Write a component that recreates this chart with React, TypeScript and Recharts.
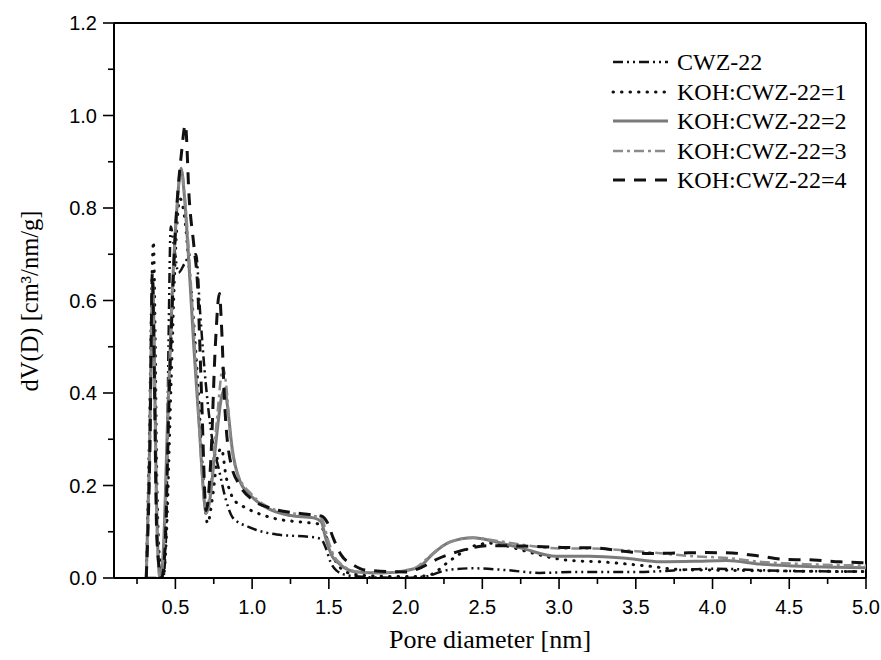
import React from "react";
import { LineChart, Line, XAxis, YAxis, ReferenceLine } from "recharts";

// ---- Data (pore diameter nm, dV(D) cm3/nm/g) ----
const cwzX = [0.31, 0.42, 0.44, 0.455, 0.47, 0.49, 0.52, 0.56, 0.6, 0.635, 0.66, 0.69, 0.72, 0.75, 0.78, 0.83, 0.875, 0.98, 1.16, 1.4, 1.45, 1.48, 1.51, 1.55, 1.62, 1.75, 2.0, 2.14, 2.27, 2.44, 2.66, 2.87, 3.09, 3.5, 4.0, 4.5, 5.0];
const cwzY = [0, 0, 0.1, 0.5, 0.76, 0.72, 0.66, 0.68, 0.7, 0.7, 0.58, 0.45, 0.35, 0.28, 0.24, 0.168, 0.13, 0.11, 0.094, 0.088, 0.084, 0.065, 0.035, 0.016, 0.006, 0.002, 0.0, 0.004, 0.017, 0.021, 0.017, 0.011, 0.013, 0.013, 0.02, 0.015, 0.014];

const koh1X = [0.31, 0.33, 0.35, 0.357, 0.365, 0.38, 0.4, 0.42, 0.44, 0.47, 0.5, 0.53, 0.56, 0.59, 0.62, 0.65, 0.68, 0.71, 0.74, 0.78, 0.8, 0.83, 0.88, 0.94, 1.0, 1.13, 1.35, 1.43, 1.47, 1.51, 1.56, 1.64, 1.8, 2.0, 2.14, 2.3, 2.45, 2.55, 2.65, 2.76, 2.98, 3.07, 3.27, 3.45, 3.6, 3.8, 4.0, 4.5, 5.0];
const koh1Y = [0, 0.3, 0.68, 0.727, 0.6, 0.2, 0.03, 0, 0.08, 0.4, 0.7, 0.82, 0.78, 0.67, 0.55, 0.4, 0.22, 0.118, 0.17, 0.27, 0.28, 0.22, 0.17, 0.155, 0.145, 0.13, 0.12, 0.117, 0.1, 0.06, 0.028, 0.01, 0.004, 0.003, 0.005, 0.04, 0.07, 0.075, 0.07, 0.06, 0.042, 0.038, 0.035, 0.03, 0.025, 0.018, 0.017, 0.015, 0.014];

const koh2X = [0.31, 0.33, 0.345, 0.352, 0.36, 0.375, 0.39, 0.4, 0.42, 0.45, 0.48, 0.51, 0.537, 0.56, 0.59, 0.62, 0.657, 0.68, 0.7, 0.72, 0.76, 0.8, 0.82, 0.84, 0.87, 0.92, 1.0, 1.13, 1.25, 1.4, 1.45, 1.48, 1.52, 1.57, 1.68, 1.85, 2.0, 2.09, 2.18, 2.29, 2.44, 2.59, 2.76, 2.98, 3.2, 3.45, 3.66, 3.88, 4.09, 4.31, 4.53, 4.8, 5.0];
const koh2Y = [0, 0.25, 0.55, 0.64, 0.55, 0.2, 0.03, 0, 0.05, 0.35, 0.62, 0.8, 0.886, 0.82, 0.67, 0.5, 0.32, 0.2, 0.14, 0.16, 0.28, 0.39, 0.41, 0.37, 0.28, 0.21, 0.175, 0.146, 0.135, 0.13, 0.122, 0.085, 0.048, 0.03, 0.013, 0.011, 0.016, 0.024, 0.053, 0.078, 0.087, 0.078, 0.064, 0.047, 0.047, 0.042, 0.035, 0.036, 0.038, 0.03, 0.026, 0.023, 0.022];

const koh3X = [0.31, 0.335, 0.35, 0.36, 0.38, 0.4, 0.42, 0.45, 0.48, 0.51, 0.54, 0.565, 0.6, 0.63, 0.66, 0.7, 0.73, 0.77, 0.81, 0.83, 0.86, 0.9, 1.0, 1.13, 1.3, 1.42, 1.46, 1.49, 1.53, 1.58, 1.7, 1.9, 2.05, 2.15, 2.27, 2.44, 2.6, 2.8, 3.0, 3.2, 3.5, 3.88, 4.1, 4.31, 4.6, 5.0];
const koh3Y = [0, 0.3, 0.62, 0.5, 0.1, 0, 0.04, 0.33, 0.6, 0.8, 0.88, 0.81, 0.64, 0.48, 0.3, 0.14, 0.2, 0.34, 0.455, 0.42, 0.3, 0.23, 0.18, 0.15, 0.138, 0.133, 0.124, 0.088, 0.05, 0.03, 0.013, 0.012, 0.02, 0.045, 0.075, 0.087, 0.08, 0.07, 0.064, 0.064, 0.058, 0.047, 0.043, 0.035, 0.03, 0.027];

const koh4X = [0.31, 0.335, 0.35, 0.36, 0.38, 0.41, 0.43, 0.46, 0.5, 0.54, 0.565, 0.59, 0.62, 0.645, 0.67, 0.7, 0.73, 0.76, 0.787, 0.8, 0.82, 0.86, 0.92, 1.0, 1.13, 1.3, 1.45, 1.49, 1.53, 1.58, 1.66, 1.74, 2.0, 2.11, 2.2, 2.33, 2.55, 2.76, 3.02, 3.24, 3.42, 3.59, 3.77, 3.96, 4.13, 4.31, 4.48, 4.66, 4.83, 5.0];
const koh4Y = [0, 0.3, 0.66, 0.5, 0.08, 0, 0.05, 0.4, 0.75, 0.92, 0.98, 0.82, 0.72, 0.63, 0.4, 0.146, 0.25, 0.5, 0.615, 0.55, 0.384, 0.25, 0.2, 0.17, 0.15, 0.14, 0.134, 0.12, 0.085, 0.05, 0.028, 0.017, 0.013, 0.024, 0.04, 0.056, 0.07, 0.069, 0.066, 0.065, 0.058, 0.053, 0.054, 0.055, 0.054, 0.047, 0.04, 0.039, 0.035, 0.033];

const seriesNames = ["CWZ-22", "KOH:CWZ-22=1", "KOH:CWZ-22=2", "KOH:CWZ-22=3", "KOH:CWZ-22=4"];
const xTicks = [0.25, 0.5, 0.75, 1.0, 1.25, 1.5, 1.75, 2.0, 2.25, 2.5, 2.75, 3.0, 3.25, 3.5, 3.75, 4.0, 4.25, 4.5, 4.75, 5.0];
const yTicks = [0, 0.1, 0.2, 0.3, 0.4, 0.5, 0.6, 0.7, 0.8, 0.9, 1.0, 1.1, 1.2];

const zip = (xs: number[], ys: number[]) => xs.map((x, i) => ({ x, y: ys[i] }));

const styles = [
  { stroke: "#111", width: 2.5, dash: "10 4 2 4 2 4", cap: "butt" },
  { stroke: "#111", width: 3, dash: "0.5 8", cap: "round" },
  { stroke: "#7a7a7a", width: 3, dash: undefined, cap: "butt" },
  { stroke: "#8c8c8c", width: 2.5, dash: "10 4 3 4", cap: "butt" },
  { stroke: "#111", width: 3, dash: "12 9", cap: "butt" },
];

const seriesData = [
  zip(cwzX, cwzY),
  zip(koh1X, koh1Y),
  zip(koh2X, koh2Y),
  zip(koh3X, koh3Y),
  zip(koh4X, koh4Y),
];

const SANS = "'Liberation Sans', Arial, sans-serif";
const SERIF = "'Liberation Serif', 'Times New Roman', serif";

const XTick = (props: any) => {
  const { x, y, payload } = props;
  const v = payload.value as number;
  const major = Math.abs(v * 2 - Math.round(v * 2)) < 1e-6;
  return (
    <g>
      <line x1={x} x2={x} y1={y} y2={y + (major ? 11 : 6)} stroke="#000" strokeWidth={1.6} />
      {major && (
        <text x={x} y={y + 36} textAnchor="middle" fontFamily={SANS} fontSize={20} fill="#000">
          {v.toFixed(1)}
        </text>
      )}
    </g>
  );
};

const YTick = (props: any) => {
  const { x, y, payload } = props;
  const v = payload.value as number;
  const major = Math.round(v * 10) % 2 === 0;
  return (
    <g>
      <line x1={x} x2={x - (major ? 11 : 6)} y1={y} y2={y} stroke="#000" strokeWidth={1.6} />
      {major && (
        <text x={x - 17} y={y + 7} textAnchor="end" fontFamily={SANS} fontSize={20} fill="#000">
          {v.toFixed(1)}
        </text>
      )}
    </g>
  );
};

const YLabel = () => {
  const cx = 38;
  const cy = 301;
  return (
    <text x={cx} y={cy} transform={`rotate(-90, ${cx}, ${cy})`} textAnchor="middle" fontFamily={SERIF} fontSize={24.5} fill="#000">
      dV(D) [cm³/nm/g]
    </text>
  );
};

const XLabel = (props: any) => {
  const vb = props.viewBox || {};
  const cx = (vb.x ?? 0) + (vb.width ?? 0) / 2;
  const by = (vb.y ?? 0) + 70;
  return (
    <text x={cx} y={by} textAnchor="middle" fontFamily={SERIF} fontSize={26} fill="#000">
      Pore diameter [nm]
    </text>
  );
};

const legendRows = [62, 92, 121, 151, 180];

export default function App() {
  return (
    <div style={{ position: "absolute", left: 0, top: 0, width: 881, height: 660, background: "#fff" }}>
      <LineChart width={881} height={660} margin={{ top: 23, right: 15, bottom: 0, left: 0 }}>
        <XAxis
          type="number"
          dataKey="x"
          domain={[0.1, 5]}
          allowDataOverflow
          ticks={xTicks}
          interval={0}
          height={82}
          tickSize={0}
          tickMargin={0}
          tickLine={false}
          tick={<XTick />}
          axisLine={{ stroke: "#000", strokeWidth: 2 }}
          label={<XLabel />}
        />
        <YAxis
          type="number"
          dataKey="y"
          domain={[0, 1.2]}
          allowDataOverflow
          ticks={yTicks}
          interval={0}
          width={114}
          tickSize={0}
          tickMargin={0}
          tickLine={false}
          tick={<YTick />}
          axisLine={{ stroke: "#000", strokeWidth: 2 }}
          label={<YLabel />}
        />
        <ReferenceLine y={1.2} stroke="#000" strokeWidth={2} />
        <ReferenceLine x={5} stroke="#000" strokeWidth={2} />
        {seriesData.map((d, i) => (
          <Line
            key={seriesNames[i]}
            data={d}
            dataKey="y"
            name={seriesNames[i]}
            type="monotone"
            stroke={styles[i].stroke}
            strokeWidth={styles[i].width}
            strokeDasharray={styles[i].dash}
            strokeLinecap={styles[i].cap as any}
            dot={false}
            activeDot={false}
            isAnimationActive={false}
          />
        ))}
      </LineChart>
      <svg width={881} height={660} style={{ position: "absolute", left: 0, top: 0, pointerEvents: "none" }}>
        {seriesNames.map((n, i) => (
          <g key={n}>
            <line
              x1={613}
              x2={668}
              y1={legendRows[i]}
              y2={legendRows[i]}
              stroke={styles[i].stroke}
              strokeWidth={styles[i].width}
              strokeDasharray={styles[i].dash}
              strokeLinecap={styles[i].cap as any}
            />
            <text x={677} y={legendRows[i] + 8} fontFamily={SERIF} fontSize={24} fill="#000">
              {n}
            </text>
          </g>
        ))}
      </svg>
    </div>
  );
}
